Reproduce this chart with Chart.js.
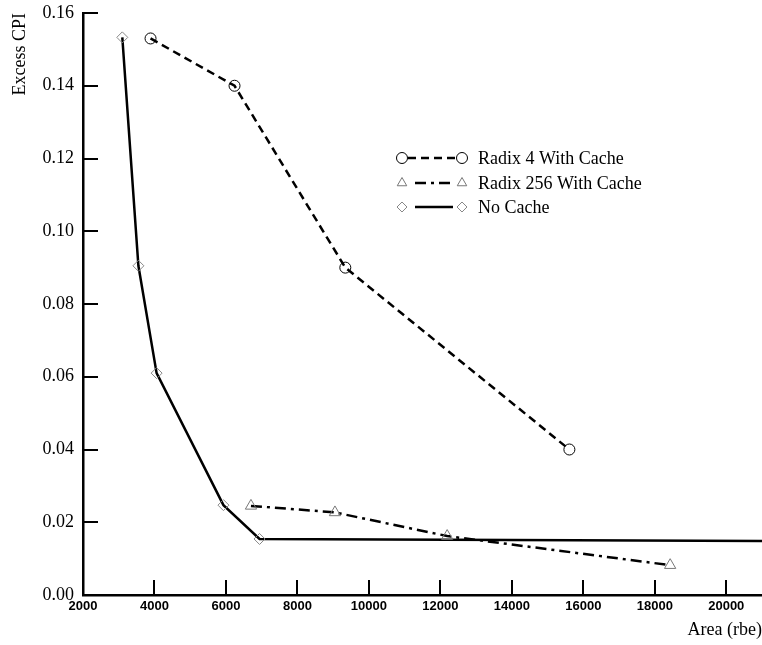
<!DOCTYPE html>
<html>
<head>
<meta charset="utf-8">
<script src="https://cdn.jsdelivr.net/npm/chart.js@4/dist/chart.umd.min.js"></script>
<style>
  html, body { margin: 0; padding: 0; background: #fff; }
  #wrap { width: 762px; height: 645px; }
</style>
</head>
<body>
<div id="wrap"><canvas id="grafico" width="762" height="645"></canvas></div>
<script>
// valores
const radix4X = [3890, 6240, 9340, 15610]
const radix4Y = [0.153, 0.140, 0.090, 0.040]

const radix256X = [6700, 9050, 12190, 18430]
const radix256Y = [0.0245, 0.0227, 0.0162, 0.0082]

const noCacheX = [3100, 3550, 4060, 5930, 6940, 24000]
const noCacheY = [0.1533, 0.0905, 0.0610, 0.0247, 0.0154, 0.0147]

const nomes = ['Radix 4 With Cache', 'Radix 256 With Cache', 'No Cache']
const xTicks = [2000, 4000, 6000, 8000, 10000, 12000, 14000, 16000, 18000, 20000]
const yTicks = [0.00, 0.02, 0.04, 0.06, 0.08, 0.10, 0.12, 0.14, 0.16]

const serif = 'Liberation Serif, Times New Roman, serif'
const pares = (xs, ys) => xs.map((x, i) => ({ x: x, y: ys[i] }))

const ctx = document.getElementById('grafico')

// marcas de escala para dentro + legenda com linha e marcador
const extras = {
  id: 'extras',
  afterDraw(chart) {
    const c = chart.ctx
    const area = chart.chartArea
    const sx = chart.scales.x
    const sy = chart.scales.y
    c.save()
    c.strokeStyle = '#000'
    c.lineWidth = 2
    xTicks.forEach((t) => {
      const px = Math.round(sx.getPixelForValue(t))
      c.beginPath()
      c.moveTo(px, area.bottom)
      c.lineTo(px, area.bottom - 15)
      c.stroke()
    })
    yTicks.forEach((t) => {
      const py = Math.round(sy.getPixelForValue(t))
      c.beginPath()
      c.moveTo(area.left, py)
      c.lineTo(area.left + 15, py)
      c.stroke()
    })

    // legenda
    const linhas = [158, 183, 207]
    chart.data.datasets.forEach((ds, i) => {
      if (i > 2) return
      const y = linhas[i]
      c.setLineDash(ds.borderDash || [])
      c.strokeStyle = ds.borderColor
      c.lineWidth = ds.borderWidth
      c.beginPath()
      c.moveTo(i === 0 ? 408 : 415, y)
      c.lineTo(i === 0 ? 456 : 453, y)
      c.stroke()
      c.setLineDash([])
      c.strokeStyle = ds.pointBorderColor
      c.fillStyle = 'rgba(0,0,0,0)'
      c.lineWidth = 1
      const opts = { pointStyle: ds.pointStyle, radius: ds.legendRadius, rotation: 0, borderWidth: 1 }
      Chart.helpers.drawPoint(c, opts, 402, y)
      Chart.helpers.drawPoint(c, opts, 462, y)
      c.fillStyle = '#000'
      c.font = '18px ' + serif
      c.textBaseline = 'middle'
      c.textAlign = 'left'
      c.fillText(ds.label, 478, y + 1)
    })
    c.restore()
  }
}

const chart = new Chart(ctx, {
  type: 'line',
  data: {
    datasets: [
      {
        label: nomes[0],
        data: pares(radix4X, radix4Y),
        borderColor: '#000',
        borderWidth: 2.5,
        borderDash: [8, 5],
        pointStyle: 'circle',
        pointRadius: 5.5,
        legendRadius: 5.5,
        pointBorderColor: '#000',
        pointBackgroundColor: 'rgba(0,0,0,0)',
        pointBorderWidth: 1,
        tension: 0
      },
      {
        label: nomes[1],
        data: pares(radix256X, radix256Y),
        borderColor: '#000',
        borderWidth: 2.5,
        borderDash: [11, 5, 3, 5],
        pointStyle: 'triangle',
        pointRadius: 6.5,
        legendRadius: 5.5,
        pointBorderColor: '#777',
        pointBackgroundColor: 'rgba(0,0,0,0)',
        pointBorderWidth: 1,
        tension: 0
      },
      {
        label: nomes[2],
        data: pares(noCacheX, noCacheY),
        borderColor: '#000',
        borderWidth: 2.5,
        pointStyle: 'rectRot',
        pointRadius: 5.5,
        legendRadius: 5,
        pointBorderColor: '#888',
        pointBackgroundColor: 'rgba(0,0,0,0)',
        pointBorderWidth: 1,
        tension: 0,
        clip: 0
      }
    ]
  },
  options: {
    responsive: false,
    animation: false,
    layout: { autoPadding: false, padding: { top: 13, right: 0, left: 0, bottom: 0 } },
    plugins: {
      legend: { display: false },
      tooltip: { enabled: false }
    },
    scales: {
      x: {
        type: 'linear',
        min: 2000,
        max: 21000,
        afterBuildTicks(scale) { scale.ticks = xTicks.map((v) => ({ value: v })) },
        afterFit(scale) {
          scale.height = 50
          scale.paddingLeft = 0
          scale.paddingRight = 0
        },
        border: { display: true, color: '#000', width: 2.5 },
        grid: { display: false, drawTicks: false },
        ticks: {
          maxRotation: 0,
          autoSkip: false,
          padding: 4,
          color: '#000',
          font: { family: 'Liberation Sans, Arial, sans-serif', size: 13, weight: 'bold' },
          callback: (v) => String(v)
        },
        title: {
          display: true,
          text: 'Area (rbe)',
          align: 'end',
          color: '#000',
          font: { family: serif, size: 18 },
          padding: { top: 0, bottom: 4 }
        }
      },
      y: {
        min: 0,
        max: 0.16,
        afterBuildTicks(scale) { scale.ticks = yTicks.map((v) => ({ value: v })) },
        afterFit(scale) {
          scale.width = 83
          scale.paddingTop = 0
          scale.paddingBottom = 0
        },
        border: { display: true, color: '#000', width: 2.5 },
        grid: { display: false, drawTicks: false },
        ticks: {
          padding: 9,
          color: '#000',
          font: { family: serif, size: 18 },
          callback: (v) => Number(v).toFixed(2)
        },
        title: {
          display: true,
          text: 'Excess CPI',
          align: 'end',
          color: '#000',
          font: { family: serif, size: 18 },
          padding: { top: 9, bottom: 0 }
        }
      }
    }
  },
  plugins: [extras]
})
</script>
</body>
</html>
